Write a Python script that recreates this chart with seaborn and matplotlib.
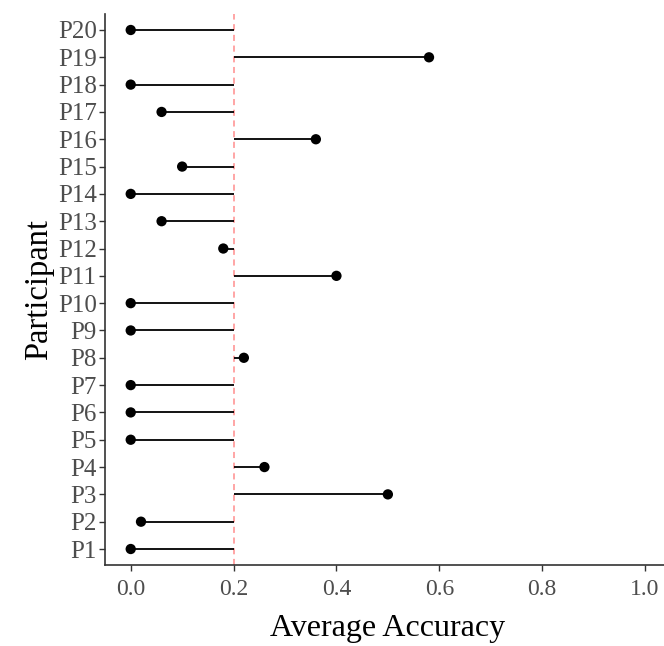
import matplotlib
matplotlib.use("Agg")
import matplotlib.pyplot as plt
import seaborn as sns
import pandas as pd

participants = [f"P{i}" for i in range(1, 21)]
accuracy = [0.00, 0.02, 0.50, 0.26, 0.00, 0.00, 0.00, 0.22, 0.00, 0.00,
            0.40, 0.18, 0.06, 0.00, 0.10, 0.36, 0.06, 0.00, 0.58, 0.00]
baseline = 0.2
x_ticks = [0.0, 0.2, 0.4, 0.6, 0.8, 1.0]

df = pd.DataFrame({"Participant": participants, "Accuracy": accuracy})
df["pos"] = range(len(df))

sns.set_style("white")
plt.rcParams["font.family"] = ["Liberation Serif", "DejaVu Serif"]

fig = plt.figure(figsize=(6.64, 6.46), dpi=100)
ax = fig.add_axes([105/664, (646-565.4)/646, 565.75/664, 551.8/646])

ax.hlines(y=df["pos"], xmin=baseline, xmax=df["Accuracy"], color="black", linewidth=1.3, zorder=2)
sns.scatterplot(data=df, x="Accuracy", y="pos", color="black", s=55, edgecolor="none", ax=ax, zorder=3)
ax.axvline(baseline, color="#ff8080", linestyle=(0, (4, 3)), linewidth=1.1, alpha=0.9, zorder=1)

ax.set_xlim(-0.05, 1.05)
ax.set_ylim(-0.6, len(df) - 1 + 0.6)
ax.set_yticks(df["pos"])
ax.set_yticklabels(df["Participant"])
ax.set_xticks(x_ticks)
ax.set_xticklabels([f"{t:.1f}" for t in x_ticks])

for s in ["top", "right"]:
    ax.spines[s].set_visible(False)
for s in ["left", "bottom"]:
    ax.spines[s].set_color("#333333")
    ax.spines[s].set_linewidth(1.2)

ax.tick_params(axis="both", which="both", direction="out", length=4, width=1.0,
               color="#333333", labelcolor="#4d4d4d", left=True, bottom=True)
ax.tick_params(axis="x", labelsize=17, pad=6)
ax.tick_params(axis="y", labelsize=18, pad=2)
ax.set_xlabel("Average Accuracy", fontsize=23, color="black", labelpad=10)
ax.set_ylabel("Participant", fontsize=23.5, color="black", labelpad=3)

fig.savefig("out.png", dpi=100)
